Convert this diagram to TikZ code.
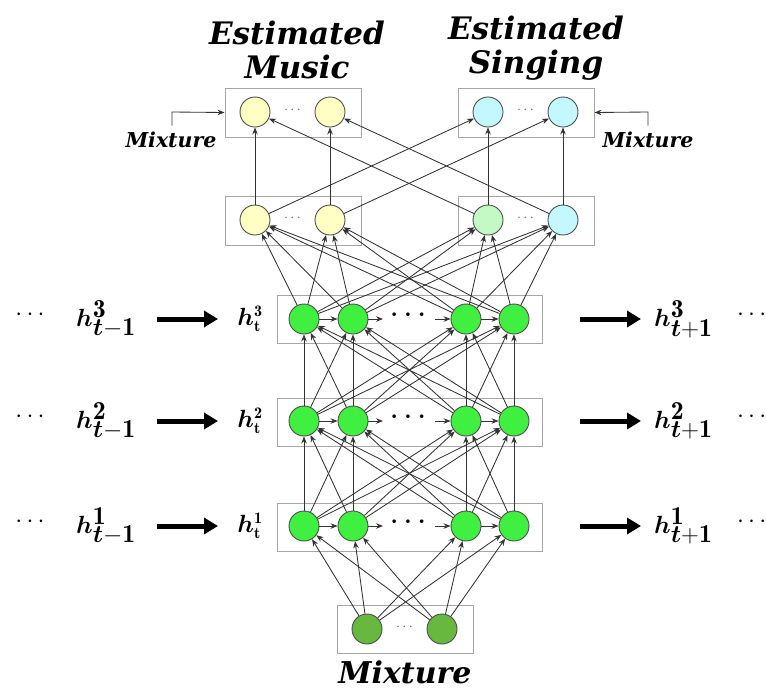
\documentclass[tikz,border=0pt]{standalone}
\usepackage{fontspec}
\usepackage{bm}
\usetikzlibrary{arrows.meta}
\newfontfamily\lblfont{DejaVu Serif}
\definecolor{cyel}{RGB}{255,255,196}
\definecolor{ccyan}{RGB}{196,248,255}
\definecolor{clgreen}{RGB}{196,248,196}
\definecolor{cgreen}{RGB}{64,240,64}
\definecolor{cmix}{RGB}{104,184,64}
\begin{document}
\begin{tikzpicture}[x=1pt,y=-1pt,
  neuron/.style={circle,draw=black!70,line width=0.9pt,minimum size=30pt,inner sep=0pt},
  layerbox/.style={draw=black!35,line width=1pt,rectangle,inner sep=0pt},
  conn/.style={draw=black!80,line width=0.85pt,-{Stealth[length=7pt,width=5.5pt]}},
  bigarrow/.style={line width=5pt,-{Triangle[length=14pt,width=16pt]}},
  title/.style={font=\lblfont\bfseries\itshape\fontsize{31}{34}\selectfont,align=center},
  smalltitle/.style={font=\lblfont\bfseries\itshape\fontsize{20.5}{22}\selectfont},
  biglbl/.style={font=\fontsize{37}{38}\selectfont,inner sep=0pt},
  smalllbl/.style={font=\fontsize{23}{24}\selectfont,inner sep=0pt},
  dotsbig/.style={font=\fontsize{28}{28}\selectfont,inner sep=0pt},
  ]
\useasboundingbox (0,0) rectangle (766,691);

% ---------- boxes ----------
\node[layerbox,minimum width=136pt,minimum height=49pt] (bYM) at (293,112.5) {};
\node[layerbox,minimum width=136pt,minimum height=49pt] (bYS) at (526,112.5) {};
\node[layerbox,minimum width=136pt,minimum height=49pt] (bOM) at (293,220.5) {};
\node[layerbox,minimum width=136pt,minimum height=49pt] (bOS) at (526,220.5) {};
\node[layerbox,minimum width=265pt,minimum height=48pt] (b3) at (409.5,319.5) {};
\node[layerbox,minimum width=265pt,minimum height=48pt] (b2) at (409.5,422) {};
\node[layerbox,minimum width=265pt,minimum height=48pt] (b1) at (409.5,527) {};
\node[layerbox,minimum width=136pt,minimum height=48pt] (bM) at (405,629) {};

% ---------- neurons ----------
\node[neuron,fill=cyel] (y1) at (255,112) {};
\node[neuron,fill=cyel] (y2) at (330,112) {};
\node[neuron,fill=ccyan] (s1) at (488,112) {};
\node[neuron,fill=ccyan] (s2) at (563,112) {};
\node[neuron,fill=cyel] (o1) at (255,220) {};
\node[neuron,fill=cyel] (o2) at (330,220) {};
\node[neuron,fill=clgreen] (o3) at (488,220) {};
\node[neuron,fill=ccyan] (o4) at (563,220) {};
\foreach \r/\yy in {3/319,2/421,1/526}{
  \node[neuron,fill=cgreen] (h\r a) at (304,\yy) {};
  \node[neuron,fill=cgreen] (h\r b) at (353,\yy) {};
  \node[neuron,fill=cgreen] (h\r c) at (466,\yy) {};
  \node[neuron,fill=cgreen] (h\r d) at (514,\yy) {};
  \node[font=\bfseries\fontsize{25}{25}\selectfont,inner sep=0pt] (d\r) at (408,\yy-4) {.\hspace{6pt}.\hspace{6pt}.};
  \coordinate (dl\r) at (383,\yy);
  \coordinate (dr\r) at (435,\yy);
}
\node[neuron,fill=cmix] (m1) at (367,629) {};
\node[neuron,fill=cmix] (m2) at (442,629) {};

% small dots in boxes
\node[text=black!60,font=\fontsize{14}{14}\selectfont] (dY) at (292.5,110) {$\cdots$};
\node[text=black!60,font=\fontsize{14}{14}\selectfont] (dS) at (525.5,110) {$\cdots$};
\node[text=black!60,font=\fontsize{14}{14}\selectfont] (dOM) at (292.5,218) {$\cdots$};
\node[text=black!60,font=\fontsize{14}{14}\selectfont] (dOS) at (525.5,218) {$\cdots$};
\node[text=black!60,font=\fontsize{14}{14}\selectfont] (dMx) at (404.5,627) {$\cdots$};

% ---------- titles ----------
\node[title] (tM) at (297,50) {Estimated\\Music};
\node[title] (tS) at (536,48) {Estimated\\Singing};
\node[title,font=\lblfont\bfseries\itshape\fontsize{30}{32}\selectfont] (tMix) at (405,672) {Mixture};
\node[smalltitle] (mixL) at (171,140) {Mixture};
\node[smalltitle] (mixR) at (648,140) {Mixture};
\coordinate (kL) at (172,112);
\coordinate (kR) at (648,112);
\draw[conn] (mixL.north -| kL) ++(0,-3) -- (kL) -- (bYM.west);
\draw[conn] (mixR.north -| kR) ++(0,-3) -- (kR) -- (bYS.east);

% ---------- side labels ----------
\foreach \r/\yy in {3/319,2/421,1/526}{
  \node[dotsbig] (ld\r) at (30,\yy-4) {$\cdots$};
  \node[biglbl,anchor=west] (L\r) at (76,\yy) {$\bm{h}^{\mathbf{\r}}_{\bm{t}\mathbf{-1}}$};
  \node[smalllbl] (st\r) at (250,\yy) {$\bm{h}^{\mathbf{\r}}_{\mathbf{t}}$};
  \node[biglbl,anchor=west] (R\r) at (654,\yy) {$\bm{h}^{\mathbf{\r}}_{\bm{t}\mathbf{+1}}$};
  \node[dotsbig,anchor=west] (rd\r) at (737,\yy-4) {$\cdots$};
  \coordinate (la\r) at (157,\yy);
  \coordinate (lb\r) at (218,\yy);
  \coordinate (ra\r) at (580,\yy);
  \coordinate (rb\r) at (641,\yy);
  \draw[bigarrow] (la\r) -- (lb\r);
  \draw[bigarrow] (ra\r) -- (rb\r);
}

% ---------- connections ----------
% mixture -> h1
\foreach \s in {m1,m2}{\foreach \t in {a,b,c,d}{\draw[conn] (\s) -- (h1\t);}}
% h1 -> h2, h2 -> h3
\foreach \lo/\hi in {1/2,2/3}{
  \foreach \s in {a,b,c,d}{\foreach \t in {a,b,c,d}{\draw[conn] (h\lo\s) -- (h\hi\t);}}
}
% h3 -> output hidden
\foreach \s in {a,b,c,d}{\foreach \t in {o1,o2,o3,o4}{\draw[conn] (h3\s) -- (\t);}}
% recurrent within layer
\foreach \r in {1,2,3}{
  \draw[conn] (h\r a) -- (h\r b);
  \draw[conn] (h\r b) -- (dl\r);
  \draw[conn] (dr\r) -- (h\r c);
  \draw[conn] (h\r c) -- (h\r d);
}
% masking
\draw[conn] (o1) -- (y1);
\draw[conn] (o2) -- (y2);
\draw[conn] (o3) -- (s1);
\draw[conn] (o4) -- (s2);
\draw[conn] (o1) -- (s1);
\draw[conn] (o2) -- (s2);
\draw[conn] (o3) -- (y1);
\draw[conn] (o4) -- (y2);
\end{tikzpicture}
\end{document}
